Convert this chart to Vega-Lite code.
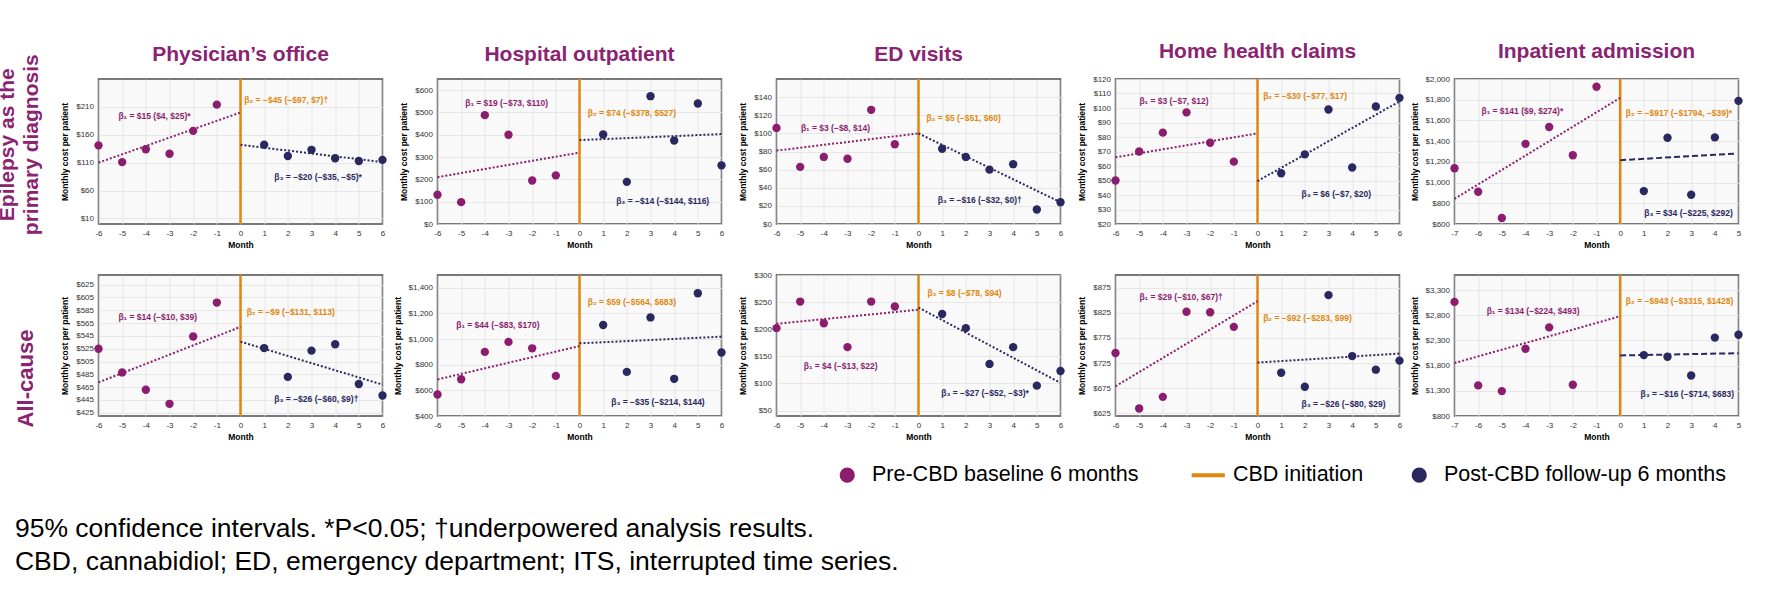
{
  "$schema": "https://vega.github.io/schema/vega-lite/v6.json",
  "padding": {"left": -3.5, "top": 40, "right": 0, "bottom": 0},
  "background": "white",
  "datasets": {
    "pts": [
      {"p":"P1","month":-6,"cost":141,"phase":"pre"},{"p":"P1","month":-5,"cost":111,"phase":"pre"},{"p":"P1","month":-4,"cost":134,"phase":"pre"},{"p":"P1","month":-3,"cost":126,"phase":"pre"},{"p":"P1","month":-2,"cost":167,"phase":"pre"},{"p":"P1","month":-1,"cost":214,"phase":"pre"},
      {"p":"P1","month":1,"cost":142,"phase":"post"},{"p":"P1","month":2,"cost":122,"phase":"post"},{"p":"P1","month":3,"cost":133,"phase":"post"},{"p":"P1","month":4,"cost":118,"phase":"post"},{"p":"P1","month":5,"cost":113,"phase":"post"},{"p":"P1","month":6,"cost":115,"phase":"post"},
      {"p":"P2","month":-6,"cost":131,"phase":"pre"},{"p":"P2","month":-5,"cost":98,"phase":"pre"},{"p":"P2","month":-4,"cost":488,"phase":"pre"},{"p":"P2","month":-3,"cost":400,"phase":"pre"},{"p":"P2","month":-2,"cost":195,"phase":"pre"},{"p":"P2","month":-1,"cost":218,"phase":"pre"},
      {"p":"P2","month":1,"cost":401,"phase":"post"},{"p":"P2","month":2,"cost":189,"phase":"post"},{"p":"P2","month":3,"cost":573,"phase":"post"},{"p":"P2","month":4,"cost":374,"phase":"post"},{"p":"P2","month":5,"cost":540,"phase":"post"},{"p":"P2","month":6,"cost":263,"phase":"post"},
      {"p":"P3","month":-6,"cost":106,"phase":"pre"},{"p":"P3","month":-5,"cost":63,"phase":"pre"},{"p":"P3","month":-4,"cost":74,"phase":"pre"},{"p":"P3","month":-3,"cost":72,"phase":"pre"},{"p":"P3","month":-2,"cost":126,"phase":"pre"},{"p":"P3","month":-1,"cost":88,"phase":"pre"},
      {"p":"P3","month":1,"cost":83,"phase":"post"},{"p":"P3","month":2,"cost":74,"phase":"post"},{"p":"P3","month":3,"cost":60,"phase":"post"},{"p":"P3","month":4,"cost":66,"phase":"post"},{"p":"P3","month":5,"cost":16,"phase":"post"},{"p":"P3","month":6,"cost":24,"phase":"post"},
      {"p":"P4","month":-6,"cost":50,"phase":"pre"},{"p":"P4","month":-5,"cost":70,"phase":"pre"},{"p":"P4","month":-4,"cost":83,"phase":"pre"},{"p":"P4","month":-3,"cost":97,"phase":"pre"},{"p":"P4","month":-2,"cost":76,"phase":"pre"},{"p":"P4","month":-1,"cost":63,"phase":"pre"},
      {"p":"P4","month":1,"cost":55,"phase":"post"},{"p":"P4","month":2,"cost":68,"phase":"post"},{"p":"P4","month":3,"cost":99,"phase":"post"},{"p":"P4","month":4,"cost":59,"phase":"post"},{"p":"P4","month":5,"cost":101,"phase":"post"},{"p":"P4","month":6,"cost":107,"phase":"post"},
      {"p":"P5","month":-7,"cost":1138,"phase":"pre"},{"p":"P5","month":-6,"cost":911,"phase":"pre"},{"p":"P5","month":-5,"cost":658,"phase":"pre"},{"p":"P5","month":-4,"cost":1374,"phase":"pre"},{"p":"P5","month":-3,"cost":1536,"phase":"pre"},{"p":"P5","month":-2,"cost":1264,"phase":"pre"},{"p":"P5","month":-1,"cost":1925,"phase":"pre"},
      {"p":"P5","month":1,"cost":918,"phase":"post"},{"p":"P5","month":2,"cost":1433,"phase":"post"},{"p":"P5","month":3,"cost":882,"phase":"post"},{"p":"P5","month":4,"cost":1436,"phase":"post"},{"p":"P5","month":5,"cost":1789,"phase":"post"},
      {"p":"P6","month":-6,"cost":525,"phase":"pre"},{"p":"P6","month":-5,"cost":488,"phase":"pre"},{"p":"P6","month":-4,"cost":461,"phase":"pre"},{"p":"P6","month":-3,"cost":439,"phase":"pre"},{"p":"P6","month":-2,"cost":544,"phase":"pre"},{"p":"P6","month":-1,"cost":597,"phase":"pre"},
      {"p":"P6","month":1,"cost":526,"phase":"post"},{"p":"P6","month":2,"cost":481,"phase":"post"},{"p":"P6","month":3,"cost":522,"phase":"post"},{"p":"P6","month":4,"cost":532,"phase":"post"},{"p":"P6","month":5,"cost":470,"phase":"post"},{"p":"P6","month":6,"cost":452,"phase":"post"},
      {"p":"P7","month":-6,"cost":568,"phase":"pre"},{"p":"P7","month":-5,"cost":687,"phase":"pre"},{"p":"P7","month":-4,"cost":900,"phase":"pre"},{"p":"P7","month":-3,"cost":978,"phase":"pre"},{"p":"P7","month":-2,"cost":928,"phase":"pre"},{"p":"P7","month":-1,"cost":713,"phase":"pre"},
      {"p":"P7","month":1,"cost":1110,"phase":"post"},{"p":"P7","month":2,"cost":744,"phase":"post"},{"p":"P7","month":3,"cost":1169,"phase":"post"},{"p":"P7","month":4,"cost":690,"phase":"post"},{"p":"P7","month":5,"cost":1358,"phase":"post"},{"p":"P7","month":6,"cost":895,"phase":"post"},
      {"p":"P8","month":-6,"cost":202,"phase":"pre"},{"p":"P8","month":-5,"cost":251,"phase":"pre"},{"p":"P8","month":-4,"cost":211,"phase":"pre"},{"p":"P8","month":-3,"cost":167,"phase":"pre"},{"p":"P8","month":-2,"cost":251,"phase":"pre"},{"p":"P8","month":-1,"cost":242,"phase":"pre"},
      {"p":"P8","month":1,"cost":228,"phase":"post"},{"p":"P8","month":2,"cost":202,"phase":"post"},{"p":"P8","month":3,"cost":136,"phase":"post"},{"p":"P8","month":4,"cost":167,"phase":"post"},{"p":"P8","month":5,"cost":96,"phase":"post"},{"p":"P8","month":6,"cost":123,"phase":"post"},
      {"p":"P9","month":-6,"cost":745,"phase":"pre"},{"p":"P9","month":-5,"cost":635,"phase":"pre"},{"p":"P9","month":-4,"cost":658,"phase":"pre"},{"p":"P9","month":-3,"cost":827,"phase":"pre"},{"p":"P9","month":-2,"cost":826,"phase":"pre"},{"p":"P9","month":-1,"cost":797,"phase":"pre"},
      {"p":"P9","month":1,"cost":706,"phase":"post"},{"p":"P9","month":2,"cost":678,"phase":"post"},{"p":"P9","month":3,"cost":860,"phase":"post"},{"p":"P9","month":4,"cost":739,"phase":"post"},{"p":"P9","month":5,"cost":712,"phase":"post"},{"p":"P9","month":6,"cost":730,"phase":"post"},
      {"p":"P10","month":-7,"cost":3066,"phase":"pre"},{"p":"P10","month":-6,"cost":1408,"phase":"pre"},{"p":"P10","month":-5,"cost":1294,"phase":"pre"},{"p":"P10","month":-4,"cost":2136,"phase":"pre"},{"p":"P10","month":-3,"cost":2560,"phase":"pre"},{"p":"P10","month":-2,"cost":1420,"phase":"pre"},
      {"p":"P10","month":1,"cost":2009,"phase":"post"},{"p":"P10","month":2,"cost":1977,"phase":"post"},{"p":"P10","month":3,"cost":1604,"phase":"post"},{"p":"P10","month":4,"cost":2357,"phase":"post"},{"p":"P10","month":5,"cost":2414,"phase":"post"}
    ],
    "trd": [
      {"p":"P1","month":-6,"cost":110,"phase":"pre"},{"p":"P1","month":0,"cost":200,"phase":"pre"},{"p":"P1","month":0,"cost":142,"phase":"post"},{"p":"P1","month":6,"cost":111,"phase":"post"},
      {"p":"P2","month":-6,"cost":210,"phase":"pre"},{"p":"P2","month":0,"cost":320,"phase":"pre"},{"p":"P2","month":0,"cost":376,"phase":"post"},{"p":"P2","month":6,"cost":403,"phase":"post"},
      {"p":"P3","month":-6,"cost":81,"phase":"pre"},{"p":"P3","month":0,"cost":100,"phase":"pre"},{"p":"P3","month":0,"cost":100,"phase":"post"},{"p":"P3","month":6,"cost":24,"phase":"post"},
      {"p":"P4","month":-6,"cost":66,"phase":"pre"},{"p":"P4","month":0,"cost":82.5,"phase":"pre"},{"p":"P4","month":0,"cost":49.6,"phase":"post"},{"p":"P4","month":6,"cost":104.5,"phase":"post"},
      {"p":"P5","month":-7,"cost":843,"phase":"pre"},{"p":"P5","month":0,"cost":1818,"phase":"pre"},{"p":"P5","month":0,"cost":1216,"phase":"post"},{"p":"P5","month":4.85,"cost":1280,"phase":"post"},
      {"p":"P6","month":-6,"cost":472.5,"phase":"pre"},{"p":"P6","month":0,"cost":559,"phase":"pre"},{"p":"P6","month":0,"cost":536,"phase":"post"},{"p":"P6","month":6,"cost":469,"phase":"post"},
      {"p":"P7","month":-6,"cost":685,"phase":"pre"},{"p":"P7","month":0,"cost":946,"phase":"pre"},{"p":"P7","month":0,"cost":967,"phase":"post"},{"p":"P7","month":6,"cost":1019,"phase":"post"},
      {"p":"P8","month":-6,"cost":210,"phase":"pre"},{"p":"P8","month":0,"cost":236,"phase":"pre"},{"p":"P8","month":0,"cost":240,"phase":"post"},{"p":"P8","month":6,"cost":101,"phase":"post"},
      {"p":"P9","month":-6,"cost":679,"phase":"pre"},{"p":"P9","month":0,"cost":848,"phase":"pre"},{"p":"P9","month":0,"cost":726,"phase":"post"},{"p":"P9","month":6,"cost":744,"phase":"post"},
      {"p":"P10","month":-7,"cost":1851,"phase":"pre"},{"p":"P10","month":0,"cost":2781,"phase":"pre"},{"p":"P10","month":0,"cost":2003,"phase":"post"},{"p":"P10","month":5,"cost":2047,"phase":"post"}
    ],
    "cbd": [{"month": 0, "phase": "cbd"}],
    "notes": [
      {"p":"P1","month":-5.16,"cost":194,"phase":"pre","label":"β₁ = $15 ($4, $25)*"},
      {"p":"P1","month":0.16,"cost":222,"phase":"cbd","label":"β₂ = −$45 (−$97, $7)†"},
      {"p":"P1","month":1.43,"cost":85,"phase":"post","label":"β₃ = −$20 (−$35, −$5)*"},
      {"p":"P2","month":-4.83,"cost":543,"phase":"pre","label":"β₁ = $19 (−$73, $110)"},
      {"p":"P2","month":0.35,"cost":498,"phase":"cbd","label":"β₂ = $74 (−$378, $527)"},
      {"p":"P2","month":1.55,"cost":102,"phase":"post","label":"β₃ = −$14 (−$144, $116)"},
      {"p":"P3","month":-4.97,"cost":106,"phase":"pre","label":"β₁ = $3 (−$8, $14)"},
      {"p":"P3","month":0.34,"cost":117,"phase":"cbd","label":"β₂ = $5 (−$51, $60)"},
      {"p":"P3","month":0.81,"cost":26.7,"phase":"post","label":"β₃ = −$16 (−$32, $0)†"},
      {"p":"P4","month":-4.99,"cost":104.5,"phase":"pre","label":"β₁ = $3 (−$7, $12)"},
      {"p":"P4","month":0.24,"cost":108,"phase":"cbd","label":"β₂ = −$30 (−$77, $17)"},
      {"p":"P4","month":1.86,"cost":40.4,"phase":"post","label":"β₃ = $6 (−$7, $20)"},
      {"p":"P5","month":-5.86,"cost":1695,"phase":"pre","label":"β₁ = $141 ($9, $274)*"},
      {"p":"P5","month":0.24,"cost":1676,"phase":"cbd","label":"β₂ = −$917 (−$1794, −$39)*"},
      {"p":"P5","month":1.02,"cost":704,"phase":"post","label":"β₃ = $34 (−$225, $292)"},
      {"p":"P6","month":-5.16,"cost":573.7,"phase":"pre","label":"β₁ = $14 (−$10, $39)"},
      {"p":"P6","month":0.26,"cost":583,"phase":"cbd","label":"β₂ = −$9 (−$131, $113)"},
      {"p":"P6","month":1.43,"cost":446,"phase":"post","label":"β₃ = −$26 (−$60, $9)†"},
      {"p":"P7","month":-5.21,"cost":1110,"phase":"pre","label":"β₁ = $44 (−$83, $170)"},
      {"p":"P7","month":0.35,"cost":1288,"phase":"cbd","label":"β₂ = $59 (−$564, $683)"},
      {"p":"P7","month":1.34,"cost":511,"phase":"post","label":"β₃ = −$35 (−$214, $144)"},
      {"p":"P8","month":-4.85,"cost":133,"phase":"pre","label":"β₁ = $4 (−$13, $22)"},
      {"p":"P8","month":0.38,"cost":267,"phase":"cbd","label":"β₂ = $8 (−$78, $94)"},
      {"p":"P8","month":0.96,"cost":82,"phase":"post","label":"β₃ = −$27 (−$52, −$3)*"},
      {"p":"P9","month":-4.99,"cost":855.6,"phase":"pre","label":"β₁ = $29 (−$10, $67)†"},
      {"p":"P9","month":0.24,"cost":815.6,"phase":"cbd","label":"β₂ = −$92 (−$283, $99)"},
      {"p":"P9","month":1.86,"cost":643.7,"phase":"post","label":"β₃ = −$26 (−$80, $29)"},
      {"p":"P10","month":-5.64,"cost":2895,"phase":"pre","label":"β₁ = $134 (−$224, $493)"},
      {"p":"P10","month":0.24,"cost":3091,"phase":"cbd","label":"β₂ = −$943 (−$3315, $1428)"},
      {"p":"P10","month":0.86,"cost":1230,"phase":"post","label":"β₃ = −$16 (−$714, $683)"}
    ]
  },
  "title": {
    "text": ["95% confidence intervals. *P<0.05; †underpowered analysis results.", "CBD, cannabidiol; ED, emergency department; ITS, interrupted time series."],
    "orient": "bottom", "anchor": "start", "frame": "bounds",
    "fontSize": 26.5, "fontWeight": "normal", "color": "#000000", "lineHeight": 33, "offset": 29, "dx": 18
  },
  "spacing": 20,
  "resolve": {"scale": {"color": "independent", "x": "independent", "y": "independent"}, "legend": {"color": "independent"}},
  "vconcat": [
    {
      "bounds": "flush",
      "spacing": 55,
      "resolve": {"scale": {"color": "independent", "x": "independent", "y": "independent"}, "legend": {"color": "independent"}},
      "title": {"text": ["Epilepsy as the", "primary diagnosis"], "orient": "left", "anchor": "middle", "fontSize": 21, "fontWeight": "bold", "color": "#8B2371", "lineHeight": 24, "offset": 18},
      "hconcat": [
        {
          "width": 284, "height": 145,
          "title": {"text": "Physician’s office"},
          "layer": [
            {"data": {"name": "cbd"}, "mark": {"type": "rule", "strokeWidth": 2.5}, "encoding": {"x": {"field": "month", "type": "quantitative", "scale": {"domain": [-6, 6]}, "axis": {"values": [-6,-5,-4,-3,-2,-1,0,1,2,3,4,5,6], "tickCount": 50, "title": "Month", "labelOverlap": false}}, "color": {"field": "phase", "type": "nominal", "scale": {"domain": ["pre", "cbd", "post"], "range": ["#8C1D6E", "#E0870F", "#29285F"]}, "legend": null}}},
            {"data": {"name": "trd"}, "transform": [{"filter": "datum.p == 'P1'"}], "mark": {"type": "line", "strokeDash": [2, 2], "strokeWidth": 2}, "encoding": {"x": {"field": "month", "type": "quantitative"}, "y": {"field": "cost", "type": "quantitative", "scale": {"domain": [10, 250]}, "axis": {"values": [10, 60, 110, 160, 210], "tickCount": 50, "title": "Monthly cost per patient", "labelOverlap": false}}, "color": {"field": "phase", "type": "nominal", "legend": null}, "detail": {"field": "phase"}}},
            {"data": {"name": "pts"}, "transform": [{"filter": "datum.p == 'P1'"}], "mark": {"type": "point", "filled": true, "size": 70, "opacity": 1}, "encoding": {"x": {"field": "month", "type": "quantitative"}, "y": {"field": "cost", "type": "quantitative"}, "color": {"field": "phase", "type": "nominal", "legend": null}}},
            {"data": {"name": "notes"}, "transform": [{"filter": "datum.p == 'P1'"}], "mark": {"type": "text", "align": "left", "baseline": "middle", "fontSize": 8.5, "fontWeight": "bold"}, "encoding": {"x": {"field": "month", "type": "quantitative"}, "y": {"field": "cost", "type": "quantitative"}, "text": {"field": "label"}, "color": {"field": "phase", "type": "nominal", "legend": null}}}
          ]
        },
        {
          "width": 284, "height": 145,
          "title": {"text": "Hospital outpatient"},
          "layer": [
            {"data": {"name": "cbd"}, "mark": {"type": "rule", "strokeWidth": 2.5}, "encoding": {"x": {"field": "month", "type": "quantitative", "scale": {"domain": [-6, 6]}, "axis": {"values": [-6,-5,-4,-3,-2,-1,0,1,2,3,4,5,6], "tickCount": 50, "title": "Month", "labelOverlap": false}}, "color": {"field": "phase", "type": "nominal", "scale": {"domain": ["pre", "cbd", "post"], "range": ["#8C1D6E", "#E0870F", "#29285F"]}, "legend": null}}},
            {"data": {"name": "trd"}, "transform": [{"filter": "datum.p == 'P2'"}], "mark": {"type": "line", "strokeDash": [2, 2], "strokeWidth": 2}, "encoding": {"x": {"field": "month", "type": "quantitative"}, "y": {"field": "cost", "type": "quantitative", "scale": {"domain": [0, 650]}, "axis": {"values": [0, 100, 200, 300, 400, 500, 600], "tickCount": 50, "title": "Monthly cost per patient", "labelOverlap": false}}, "color": {"field": "phase", "type": "nominal", "legend": null}, "detail": {"field": "phase"}}},
            {"data": {"name": "pts"}, "transform": [{"filter": "datum.p == 'P2'"}], "mark": {"type": "point", "filled": true, "size": 70, "opacity": 1}, "encoding": {"x": {"field": "month", "type": "quantitative"}, "y": {"field": "cost", "type": "quantitative"}, "color": {"field": "phase", "type": "nominal", "legend": null}}},
            {"data": {"name": "notes"}, "transform": [{"filter": "datum.p == 'P2'"}], "mark": {"type": "text", "align": "left", "baseline": "middle", "fontSize": 8.5, "fontWeight": "bold"}, "encoding": {"x": {"field": "month", "type": "quantitative"}, "y": {"field": "cost", "type": "quantitative"}, "text": {"field": "label"}, "color": {"field": "phase", "type": "nominal", "legend": null}}}
          ]
        },
        {
          "width": 284, "height": 145,
          "title": {"text": "ED visits"},
          "layer": [
            {"data": {"name": "cbd"}, "mark": {"type": "rule", "strokeWidth": 2.5}, "encoding": {"x": {"field": "month", "type": "quantitative", "scale": {"domain": [-6, 6]}, "axis": {"values": [-6,-5,-4,-3,-2,-1,0,1,2,3,4,5,6], "tickCount": 50, "title": "Month", "labelOverlap": false}}, "color": {"field": "phase", "type": "nominal", "scale": {"domain": ["pre", "cbd", "post"], "range": ["#8C1D6E", "#E0870F", "#29285F"]}, "legend": null}}},
            {"data": {"name": "trd"}, "transform": [{"filter": "datum.p == 'P3'"}], "mark": {"type": "line", "strokeDash": [2, 2], "strokeWidth": 2}, "encoding": {"x": {"field": "month", "type": "quantitative"}, "y": {"field": "cost", "type": "quantitative", "scale": {"domain": [0, 150]}, "axis": {"values": [0, 20, 40, 60, 80, 100, 120, 140], "tickCount": 50, "title": "Monthly cost per patient", "labelOverlap": false}}, "color": {"field": "phase", "type": "nominal", "legend": null}, "detail": {"field": "phase"}}},
            {"data": {"name": "pts"}, "transform": [{"filter": "datum.p == 'P3'"}], "mark": {"type": "point", "filled": true, "size": 70, "opacity": 1}, "encoding": {"x": {"field": "month", "type": "quantitative"}, "y": {"field": "cost", "type": "quantitative"}, "color": {"field": "phase", "type": "nominal", "legend": null}}},
            {"data": {"name": "notes"}, "transform": [{"filter": "datum.p == 'P3'"}], "mark": {"type": "text", "align": "left", "baseline": "middle", "fontSize": 8.5, "fontWeight": "bold"}, "encoding": {"x": {"field": "month", "type": "quantitative"}, "y": {"field": "cost", "type": "quantitative"}, "text": {"field": "label"}, "color": {"field": "phase", "type": "nominal", "legend": null}}}
          ]
        },
        {
          "width": 284, "height": 145,
          "title": {"text": "Home health claims"},
          "layer": [
            {"data": {"name": "cbd"}, "mark": {"type": "rule", "strokeWidth": 2.5}, "encoding": {"x": {"field": "month", "type": "quantitative", "scale": {"domain": [-6, 6]}, "axis": {"values": [-6,-5,-4,-3,-2,-1,0,1,2,3,4,5,6], "tickCount": 50, "title": "Month", "labelOverlap": false}}, "color": {"field": "phase", "type": "nominal", "scale": {"domain": ["pre", "cbd", "post"], "range": ["#8C1D6E", "#E0870F", "#29285F"]}, "legend": null}}},
            {"data": {"name": "trd"}, "transform": [{"filter": "datum.p == 'P4'"}], "mark": {"type": "line", "strokeDash": [2, 2], "strokeWidth": 2}, "encoding": {"x": {"field": "month", "type": "quantitative"}, "y": {"field": "cost", "type": "quantitative", "scale": {"domain": [20, 120]}, "axis": {"values": [20, 30, 40, 50, 60, 70, 80, 90, 100, 110, 120], "tickCount": 50, "title": "Monthly cost per patient", "labelOverlap": false}}, "color": {"field": "phase", "type": "nominal", "legend": null}, "detail": {"field": "phase"}}},
            {"data": {"name": "pts"}, "transform": [{"filter": "datum.p == 'P4'"}], "mark": {"type": "point", "filled": true, "size": 70, "opacity": 1}, "encoding": {"x": {"field": "month", "type": "quantitative"}, "y": {"field": "cost", "type": "quantitative"}, "color": {"field": "phase", "type": "nominal", "legend": null}}},
            {"data": {"name": "notes"}, "transform": [{"filter": "datum.p == 'P4'"}], "mark": {"type": "text", "align": "left", "baseline": "middle", "fontSize": 8.5, "fontWeight": "bold"}, "encoding": {"x": {"field": "month", "type": "quantitative"}, "y": {"field": "cost", "type": "quantitative"}, "text": {"field": "label"}, "color": {"field": "phase", "type": "nominal", "legend": null}}}
          ]
        },
        {
          "width": 284, "height": 145,
          "title": {"text": "Inpatient admission"},
          "layer": [
            {"data": {"name": "cbd"}, "mark": {"type": "rule", "strokeWidth": 2.5}, "encoding": {"x": {"field": "month", "type": "quantitative", "scale": {"domain": [-7, 5]}, "axis": {"values": [-7,-6,-5,-4,-3,-2,-1,0,1,2,3,4,5], "tickCount": 50, "title": "Month", "labelOverlap": false}}, "color": {"field": "phase", "type": "nominal", "scale": {"domain": ["pre", "cbd", "post"], "range": ["#8C1D6E", "#E0870F", "#29285F"]}, "legend": null}}},
            {"data": {"name": "trd"}, "transform": [{"filter": "datum.p == 'P5' && datum.phase == 'pre'"}], "mark": {"type": "line", "strokeDash": [2, 2], "strokeWidth": 2}, "encoding": {"x": {"field": "month", "type": "quantitative"}, "y": {"field": "cost", "type": "quantitative", "scale": {"domain": [600, 2000]}, "axis": {"values": [600, 800, 1000, 1200, 1400, 1600, 1800, 2000], "tickCount": 50, "title": "Monthly cost per patient", "labelOverlap": false}}, "color": {"field": "phase", "type": "nominal", "legend": null}}},
            {"data": {"name": "trd"}, "transform": [{"filter": "datum.p == 'P5' && datum.phase == 'post'"}], "mark": {"type": "line", "strokeDash": [6, 3], "strokeWidth": 2}, "encoding": {"x": {"field": "month", "type": "quantitative"}, "y": {"field": "cost", "type": "quantitative"}, "color": {"field": "phase", "type": "nominal", "legend": null}}},
            {"data": {"name": "pts"}, "transform": [{"filter": "datum.p == 'P5'"}], "mark": {"type": "point", "filled": true, "size": 70, "opacity": 1}, "encoding": {"x": {"field": "month", "type": "quantitative"}, "y": {"field": "cost", "type": "quantitative"}, "color": {"field": "phase", "type": "nominal", "legend": null}}},
            {"data": {"name": "notes"}, "transform": [{"filter": "datum.p == 'P5'"}], "mark": {"type": "text", "align": "left", "baseline": "middle", "fontSize": 8.5, "fontWeight": "bold"}, "encoding": {"x": {"field": "month", "type": "quantitative"}, "y": {"field": "cost", "type": "quantitative"}, "text": {"field": "label"}, "color": {"field": "phase", "type": "nominal", "legend": null}}}
          ]
        }
      ]
    },
    {
      "bounds": "flush",
      "spacing": 55,
      "resolve": {"scale": {"color": "independent", "x": "independent", "y": "independent"}, "legend": {"color": "independent"}},
      "title": {"text": "All-cause", "orient": "left", "anchor": "middle", "fontSize": 22, "fontWeight": "bold", "color": "#8B2371", "offset": 22},
      "hconcat": [
        {
          "width": 284, "height": 141,
          "layer": [
            {"data": {"name": "cbd"}, "mark": {"type": "rule", "strokeWidth": 2.5}, "encoding": {"x": {"field": "month", "type": "quantitative", "scale": {"domain": [-6, 6]}, "axis": {"values": [-6,-5,-4,-3,-2,-1,0,1,2,3,4,5,6], "tickCount": 50, "title": "Month", "labelOverlap": false}}, "color": {"field": "phase", "type": "nominal", "scale": {"domain": ["pre", "cbd", "post"], "range": ["#8C1D6E", "#E0870F", "#29285F"]},
              "legend": {"orient": "none", "legendX": 738, "legendY": 189, "direction": "horizontal", "title": null, "labelFontSize": 21.5, "labelColor": "#000000", "labelLimit": 400, "symbolSize": 230, "labelOffset": 14, "columnPadding": 45, "padding": 0, "values": ["pre", "cbd", "post"],
                "labelExpr": "datum.label == 'pre' ? 'Pre-CBD baseline 6 months' : datum.label == 'cbd' ? 'CBD initiation\u00a0\u00a0\u00a0' : 'Post-CBD follow-up 6 months'",
                "encode": {"symbols": {"update": {"shape": {"signal": "datum.value == 'cbd' ? 'stroke' : 'circle'"}, "size": {"signal": "datum.value == 'cbd' ? 1100 : 230"}, "stroke": {"signal": "datum.value == 'cbd' ? '#E0870F' : 'transparent'"}, "strokeWidth": {"signal": "datum.value == 'cbd' ? 4 : 0"}, "fill": {"signal": "datum.value == 'pre' ? '#8C1D6E' : datum.value == 'post' ? '#29285F' : '#E0870F'"}, "opacity": {"value": 1}}}}}}}},
            {"data": {"name": "trd"}, "transform": [{"filter": "datum.p == 'P6'"}], "mark": {"type": "line", "strokeDash": [2, 2], "strokeWidth": 2}, "encoding": {"x": {"field": "month", "type": "quantitative"}, "y": {"field": "cost", "type": "quantitative", "scale": {"domain": [425, 625]}, "axis": {"values": [425, 445, 465, 485, 505, 525, 545, 565, 585, 605, 625], "tickCount": 50, "title": "Monthly cost per patient", "labelOverlap": false}}, "color": {"field": "phase", "type": "nominal"}, "detail": {"field": "phase"}}},
            {"data": {"name": "pts"}, "transform": [{"filter": "datum.p == 'P6'"}], "mark": {"type": "point", "filled": true, "size": 70, "opacity": 1}, "encoding": {"x": {"field": "month", "type": "quantitative"}, "y": {"field": "cost", "type": "quantitative"}, "color": {"field": "phase", "type": "nominal"}}},
            {"data": {"name": "notes"}, "transform": [{"filter": "datum.p == 'P6'"}], "mark": {"type": "text", "align": "left", "baseline": "middle", "fontSize": 8.5, "fontWeight": "bold"}, "encoding": {"x": {"field": "month", "type": "quantitative"}, "y": {"field": "cost", "type": "quantitative"}, "text": {"field": "label"}, "color": {"field": "phase", "type": "nominal"}}}
          ]
        },
        {
          "width": 284, "height": 141,
          "layer": [
            {"data": {"name": "cbd"}, "mark": {"type": "rule", "strokeWidth": 2.5}, "encoding": {"x": {"field": "month", "type": "quantitative", "scale": {"domain": [-6, 6]}, "axis": {"values": [-6,-5,-4,-3,-2,-1,0,1,2,3,4,5,6], "tickCount": 50, "title": "Month", "labelOverlap": false}}, "color": {"field": "phase", "type": "nominal", "scale": {"domain": ["pre", "cbd", "post"], "range": ["#8C1D6E", "#E0870F", "#29285F"]}, "legend": null}}},
            {"data": {"name": "trd"}, "transform": [{"filter": "datum.p == 'P7'"}], "mark": {"type": "line", "strokeDash": [2, 2], "strokeWidth": 2}, "encoding": {"x": {"field": "month", "type": "quantitative"}, "y": {"field": "cost", "type": "quantitative", "scale": {"domain": [400, 1500]}, "axis": {"values": [400, 600, 800, 1000, 1200, 1400], "tickCount": 50, "title": "Monthly cost per patient", "labelOverlap": false}}, "color": {"field": "phase", "type": "nominal", "legend": null}, "detail": {"field": "phase"}}},
            {"data": {"name": "pts"}, "transform": [{"filter": "datum.p == 'P7'"}], "mark": {"type": "point", "filled": true, "size": 70, "opacity": 1}, "encoding": {"x": {"field": "month", "type": "quantitative"}, "y": {"field": "cost", "type": "quantitative"}, "color": {"field": "phase", "type": "nominal", "legend": null}}},
            {"data": {"name": "notes"}, "transform": [{"filter": "datum.p == 'P7'"}], "mark": {"type": "text", "align": "left", "baseline": "middle", "fontSize": 8.5, "fontWeight": "bold"}, "encoding": {"x": {"field": "month", "type": "quantitative"}, "y": {"field": "cost", "type": "quantitative"}, "text": {"field": "label"}, "color": {"field": "phase", "type": "nominal", "legend": null}}}
          ]
        },
        {
          "width": 284, "height": 141,
          "layer": [
            {"data": {"name": "cbd"}, "mark": {"type": "rule", "strokeWidth": 2.5}, "encoding": {"x": {"field": "month", "type": "quantitative", "scale": {"domain": [-6, 6]}, "axis": {"values": [-6,-5,-4,-3,-2,-1,0,1,2,3,4,5,6], "tickCount": 50, "title": "Month", "labelOverlap": false}}, "color": {"field": "phase", "type": "nominal", "scale": {"domain": ["pre", "cbd", "post"], "range": ["#8C1D6E", "#E0870F", "#29285F"]}, "legend": null}}},
            {"data": {"name": "trd"}, "transform": [{"filter": "datum.p == 'P8'"}], "mark": {"type": "line", "strokeDash": [2, 2], "strokeWidth": 2}, "encoding": {"x": {"field": "month", "type": "quantitative"}, "y": {"field": "cost", "type": "quantitative", "scale": {"domain": [50, 300]}, "axis": {"values": [50, 100, 150, 200, 250, 300], "tickCount": 50, "title": "Monthly cost per patient", "labelOverlap": false}}, "color": {"field": "phase", "type": "nominal", "legend": null}, "detail": {"field": "phase"}}},
            {"data": {"name": "pts"}, "transform": [{"filter": "datum.p == 'P8'"}], "mark": {"type": "point", "filled": true, "size": 70, "opacity": 1}, "encoding": {"x": {"field": "month", "type": "quantitative"}, "y": {"field": "cost", "type": "quantitative"}, "color": {"field": "phase", "type": "nominal", "legend": null}}},
            {"data": {"name": "notes"}, "transform": [{"filter": "datum.p == 'P8'"}], "mark": {"type": "text", "align": "left", "baseline": "middle", "fontSize": 8.5, "fontWeight": "bold"}, "encoding": {"x": {"field": "month", "type": "quantitative"}, "y": {"field": "cost", "type": "quantitative"}, "text": {"field": "label"}, "color": {"field": "phase", "type": "nominal", "legend": null}}}
          ]
        },
        {
          "width": 284, "height": 141,
          "layer": [
            {"data": {"name": "cbd"}, "mark": {"type": "rule", "strokeWidth": 2.5}, "encoding": {"x": {"field": "month", "type": "quantitative", "scale": {"domain": [-6, 6]}, "axis": {"values": [-6,-5,-4,-3,-2,-1,0,1,2,3,4,5,6], "tickCount": 50, "title": "Month", "labelOverlap": false}}, "color": {"field": "phase", "type": "nominal", "scale": {"domain": ["pre", "cbd", "post"], "range": ["#8C1D6E", "#E0870F", "#29285F"]}, "legend": null}}},
            {"data": {"name": "trd"}, "transform": [{"filter": "datum.p == 'P9'"}], "mark": {"type": "line", "strokeDash": [2, 2], "strokeWidth": 2}, "encoding": {"x": {"field": "month", "type": "quantitative"}, "y": {"field": "cost", "type": "quantitative", "scale": {"domain": [625, 900]}, "axis": {"values": [625, 675, 725, 775, 825, 875], "tickCount": 50, "title": "Monthly cost per patient", "labelOverlap": false}}, "color": {"field": "phase", "type": "nominal", "legend": null}, "detail": {"field": "phase"}}},
            {"data": {"name": "pts"}, "transform": [{"filter": "datum.p == 'P9'"}], "mark": {"type": "point", "filled": true, "size": 70, "opacity": 1}, "encoding": {"x": {"field": "month", "type": "quantitative"}, "y": {"field": "cost", "type": "quantitative"}, "color": {"field": "phase", "type": "nominal", "legend": null}}},
            {"data": {"name": "notes"}, "transform": [{"filter": "datum.p == 'P9'"}], "mark": {"type": "text", "align": "left", "baseline": "middle", "fontSize": 8.5, "fontWeight": "bold"}, "encoding": {"x": {"field": "month", "type": "quantitative"}, "y": {"field": "cost", "type": "quantitative"}, "text": {"field": "label"}, "color": {"field": "phase", "type": "nominal", "legend": null}}}
          ]
        },
        {
          "width": 284, "height": 141,
          "layer": [
            {"data": {"name": "cbd"}, "mark": {"type": "rule", "strokeWidth": 2.5}, "encoding": {"x": {"field": "month", "type": "quantitative", "scale": {"domain": [-7, 5]}, "axis": {"values": [-7,-6,-5,-4,-3,-2,-1,0,1,2,3,4,5], "tickCount": 50, "title": "Month", "labelOverlap": false}}, "color": {"field": "phase", "type": "nominal", "scale": {"domain": ["pre", "cbd", "post"], "range": ["#8C1D6E", "#E0870F", "#29285F"]}, "legend": null}}},
            {"data": {"name": "trd"}, "transform": [{"filter": "datum.p == 'P10' && datum.phase == 'pre'"}], "mark": {"type": "line", "strokeDash": [2, 2], "strokeWidth": 2}, "encoding": {"x": {"field": "month", "type": "quantitative"}, "y": {"field": "cost", "type": "quantitative", "scale": {"domain": [800, 3500]}, "axis": {"values": [800, 1300, 1800, 2300, 2800, 3300], "tickCount": 50, "title": "Monthly cost per patient", "labelOverlap": false}}, "color": {"field": "phase", "type": "nominal", "legend": null}}},
            {"data": {"name": "trd"}, "transform": [{"filter": "datum.p == 'P10' && datum.phase == 'post'"}], "mark": {"type": "line", "strokeDash": [6, 3], "strokeWidth": 2}, "encoding": {"x": {"field": "month", "type": "quantitative"}, "y": {"field": "cost", "type": "quantitative"}, "color": {"field": "phase", "type": "nominal", "legend": null}}},
            {"data": {"name": "pts"}, "transform": [{"filter": "datum.p == 'P10'"}], "mark": {"type": "point", "filled": true, "size": 70, "opacity": 1}, "encoding": {"x": {"field": "month", "type": "quantitative"}, "y": {"field": "cost", "type": "quantitative"}, "color": {"field": "phase", "type": "nominal", "legend": null}}},
            {"data": {"name": "notes"}, "transform": [{"filter": "datum.p == 'P10'"}], "mark": {"type": "text", "align": "left", "baseline": "middle", "fontSize": 8.5, "fontWeight": "bold"}, "encoding": {"x": {"field": "month", "type": "quantitative"}, "y": {"field": "cost", "type": "quantitative"}, "text": {"field": "label"}, "color": {"field": "phase", "type": "nominal", "legend": null}}}
          ]
        }
      ]
    }
  ],
  "config": {
    "font": "Liberation Sans",
    "view": {"stroke": "#4d4d4d", "strokeWidth": 1.5, "fill": "#f9f9f9"},
    "title": {"fontSize": 21, "fontWeight": "bold", "color": "#8B2371", "offset": 13, "anchor": "middle"},
    "axis": {"labelFontSize": 8, "labelColor": "#333333", "titleFontSize": 8.5, "titleFontWeight": "bold", "titleColor": "#000000", "ticks": false, "domain": false, "gridColor": "#e2e2e2", "gridWidth": 0.8, "labelPadding": 5, "titlePadding": 6, "labelOverlap": false, "labelFlush": false},
    "axisX": {"labelExpr": "'' + datum.value", "labelPadding": 5, "titlePadding": 3, "labelOverlap": false},
    "axisY": {"format": "$,d", "titlePadding": 6, "labelOverlap": false},
    "legend": {"labelFont": "Liberation Sans"}
  }
}
